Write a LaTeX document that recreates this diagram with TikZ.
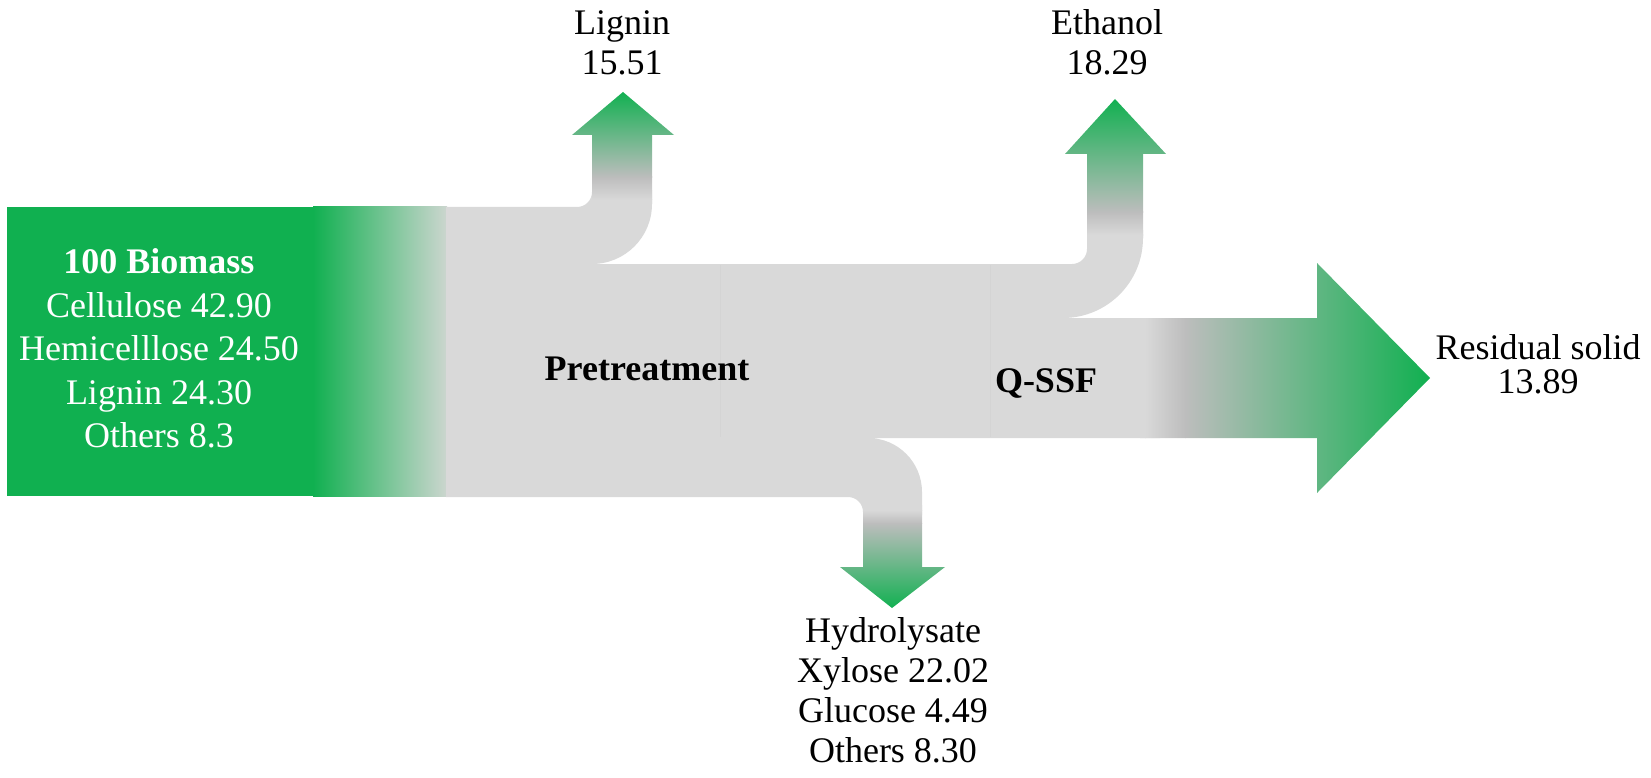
\documentclass[tikz,border=0pt]{standalone}
\usepackage{fontspec}
\setmainfont{Liberation Serif}
\definecolor{grn}{HTML}{10B050}
\definecolor{gry}{HTML}{D9D9D9}
\definecolor{dgry}{HTML}{BDBDBD}
\definecolor{fadeg}{HTML}{CCD6CF}
\definecolor{seam}{HTML}{D4D4D4}
\begin{document}
\begin{tikzpicture}[x=1pt,y=-1pt,
  lbl/.style={font=\fontsize{36}{40}\selectfont, align=center, inner sep=0pt, text=black},
  boxtxt/.style={font=\fontsize{36}{43.5}\selectfont, align=center, inner sep=0pt, text=white},
  steplbl/.style={font=\fontsize{36}{44}\selectfont\bfseries, inner sep=0pt, text=black},
  body/.style={fill=gry, draw=none}]
\useasboundingbox (0,0) rectangle (1651,778);

% left biomass box
\fill[grn] (7,207) rectangle (314,496);
\shade[left color=grn, right color=fadeg] (313,207) rectangle (447,496);

% grey flow body
\path[body] (446,207) -- (577,207) arc[start angle=90, end angle=0, radius=15]
  -- (592,190) -- (652,190) -- (652,204) arc[start angle=0, end angle=90, radius=60]
  -- (1072,264) arc[start angle=90, end angle=0, radius=15]
  -- (1087,230) -- (1143,230) -- (1143,238) arc[start angle=0, end angle=90, radius=80]
  -- (1160,318) -- (1160,438) -- (868,438) arc[start angle=270, end angle=360, radius=54]
  -- (922,515) -- (863,515) -- (863,512) arc[start angle=0, end angle=-90, radius=15]
  -- (446,497) -- cycle;

% faint seams
\draw[seam, line width=0.6pt] (720,265) -- (720,437);
\draw[seam, line width=0.6pt] (990,265) -- (990,437);

% lignin arrow
\begin{scope}
\clip (592,204) -- (592,135) -- (572,135) -- (623,92) -- (674,135) -- (652,135) -- (652,204) -- cycle;
\fill[gry] (560,199) rectangle (690,205);
\shade[top color=dgry, bottom color=gry] (560,177) rectangle (690,200);
\shade[top color=grn, bottom color=dgry] (560,91) rectangle (690,177.5);
\end{scope}

% ethanol arrow
\begin{scope}
\clip (1087,238) -- (1087,154) -- (1065,154) -- (1115,99) -- (1166,154) -- (1143,154) -- (1143,238) -- cycle;
\fill[gry] (1050,234) rectangle (1180,239);
\shade[top color=dgry, bottom color=gry] (1050,212) rectangle (1180,235);
\shade[top color=grn, bottom color=dgry] (1050,98) rectangle (1180,212.5);
\end{scope}

% hydrolysate arrow
\begin{scope}
\clip (863,505) -- (863,567) -- (840,567) -- (892,608) -- (945,567) -- (922,567) -- (922,505) -- cycle;
\fill[gry] (830,504) rectangle (960,511);
\shade[top color=gry, bottom color=dgry] (830,510) rectangle (960,523.5);
\shade[top color=dgry, bottom color=grn] (830,523) rectangle (960,609);
\end{scope}

% residual solid arrow
\begin{scope}
\clip (1140,318) -- (1317,318) -- (1317,263) -- (1430,378) -- (1317,493) -- (1317,438) -- (1140,438) -- cycle;
\fill[gry] (1139,250) rectangle (1146,500);
\shade[left color=gry, right color=dgry] (1145,250) rectangle (1185.5,500);
\shade[left color=dgry, right color=grn] (1185,250) rectangle (1431,500);
\end{scope}

% texts
\node[boxtxt] (biomass) at (159,348.5) {\textbf{100 Biomass}\\Cellulose 42.90\\Hemicelllose\ 24.50\\Lignin 24.30\\Others 8.3};
\node[lbl] (lignin) at (622,42.5) {Lignin\\15.51};
\node[lbl] (ethanol) at (1107,42.5) {Ethanol\\18.29};
\node[lbl] (hydro) at (893,690.5) {Hydrolysate\\Xylose 22.02\\Glucose 4.49\\Others 8.30};
\node[lbl, font=\fontsize{36}{34}\selectfont] (resid) at (1538,364) {Residual solid\\13.89};
\node[steplbl, anchor=base] (pretreat) at (647,380) {Pretreatment};
\node[steplbl, anchor=base] (qssf) at (1046,392) {Q-SSF};
\end{tikzpicture}
\end{document}
